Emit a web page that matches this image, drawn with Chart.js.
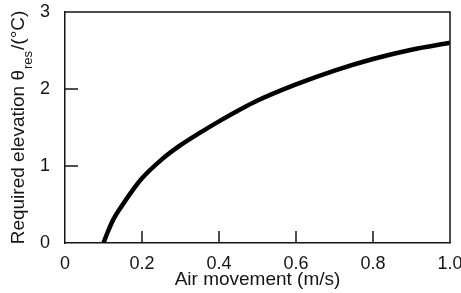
<!DOCTYPE html>
<html>
<head>
<meta charset="utf-8">
<script src="https://cdn.jsdelivr.net/npm/chart.js@4/dist/chart.umd.min.js"></script>
<style>
  html, body { margin: 0; padding: 0; background: #fff; }
  #wrap { width: 461px; height: 293px; }
</style>
</head>
<body>
<div id="wrap"><canvas id="elevChart"></canvas></div>
<script>
// air movement (m/s) and required elevation (deg C)
var airSpeed  = [0.10, 0.11, 0.125, 0.15, 0.175, 0.20, 0.25, 0.30, 0.35, 0.40, 0.50, 0.60, 0.70, 0.80, 0.90, 1.00];
var elevation = [0.00, 0.13, 0.30, 0.50, 0.68, 0.84, 1.08, 1.27, 1.43, 1.58, 1.85, 2.06, 2.24, 2.39, 2.51, 2.60];

var xTicks = [0, 0.2, 0.4, 0.6, 0.8, 1.0];
var yTicks = [0, 1, 2, 3];

var ink = '#141414';
var fontName = '"Liberation Sans", Arial, sans-serif';

// inward tick marks, closed frame and the y title with subscript
var framePlugin = {
    id: 'frame',
    afterDraw: function(chart) {
        var ctx = chart.ctx;
        var a = chart.chartArea;
        var xs = chart.scales.x, ys = chart.scales.y;
        ctx.save();
        ctx.strokeStyle = ink;
        ctx.lineWidth = 1.5;
        ctx.beginPath();
        ctx.moveTo(a.left, a.top);
        ctx.lineTo(a.right, a.top);
        ctx.lineTo(a.right, a.bottom);
        ctx.stroke();
        xTicks.slice(1, -1).forEach(function(v) {
            var px = xs.getPixelForValue(v);
            ctx.beginPath();
            ctx.moveTo(px, a.bottom);
            ctx.lineTo(px, a.bottom - 12);
            ctx.stroke();
        });
        yTicks.slice(1, -1).forEach(function(v) {
            var py = ys.getPixelForValue(v);
            ctx.beginPath();
            ctx.moveTo(a.left, py);
            ctx.lineTo(a.left + 13, py);
            ctx.stroke();
        });

        // y title: Required elevation θres/(°C)
        var big = '19px ' + fontName, small = '13px ' + fontName;
        var p1 = 'Required elevation \u03B8', p2 = 'res', p3 = '/(\u00B0C)';
        ctx.font = big;
        var w1 = ctx.measureText(p1).width, w3 = ctx.measureText(p3).width;
        ctx.font = small;
        var w2 = ctx.measureText(p2).width;
        var total = w1 + w2 + w3 + 2;
        ctx.translate(19, (a.top + a.bottom) / 2);
        ctx.rotate(-Math.PI / 2);
        ctx.fillStyle = ink;
        ctx.textBaseline = 'middle';
        ctx.textAlign = 'left';
        var x0 = -total / 2;
        ctx.font = big;
        ctx.fillText(p1, x0, 0);
        ctx.font = small;
        ctx.fillText(p2, x0 + w1 + 1, 9);
        ctx.font = big;
        ctx.fillText(p3, x0 + w1 + w2 + 2, 0);
        ctx.restore();
    }
};

new Chart(document.getElementById('elevChart').getContext('2d'), {
    type: 'line',
    data: {
        datasets: [{
            data: airSpeed.map(function(v, i) { return { x: v, y: elevation[i] }; }),
            borderColor: '#000',
            borderWidth: 4.5,
            pointRadius: 0,
            cubicInterpolationMode: 'monotone',
            fill: false
        }]
    },
    options: {
        responsive: true,
        maintainAspectRatio: false,
        animation: false,
        layout: { padding: { left: 0, top: 12, right: 11, bottom: 0 } },
        plugins: { legend: { display: false }, tooltip: { enabled: false } },
        scales: {
            x: {
                type: 'linear',
                min: 0, max: 1,
                afterFit: function(s) { s.height = 50; s.paddingLeft = 0; s.paddingRight = 0; },
                afterBuildTicks: function(s) { s.ticks = xTicks.map(function(v) { return { value: v }; }); },
                grid: { display: false, drawTicks: false },
                border: { display: true, color: ink, width: 1.5 },
                ticks: {
                    padding: 10,
                    color: ink,
                    font: { family: fontName, size: 18 },
                    callback: function(v) { return v === 0 ? '0' : v.toFixed(1); }
                },
                title: {
                    display: true,
                    text: 'Air movement (m/s)',
                    color: ink,
                    font: { family: fontName, size: 19 },
                    padding: { top: 0, bottom: 2 }
                }
            },
            y: {
                min: 0, max: 3,
                afterFit: function(s) { s.width = 65; s.paddingTop = 0; s.paddingBottom = 0; },
                afterBuildTicks: function(s) { s.ticks = yTicks.map(function(v) { return { value: v }; }); },
                grid: { display: false, drawTicks: false },
                border: { display: true, color: ink, width: 1.5 },
                ticks: {
                    padding: 15,
                    color: ink,
                    font: { family: fontName, size: 18 }
                }
            }
        }
    },
    plugins: [framePlugin]
});
</script>
</body>
</html>
